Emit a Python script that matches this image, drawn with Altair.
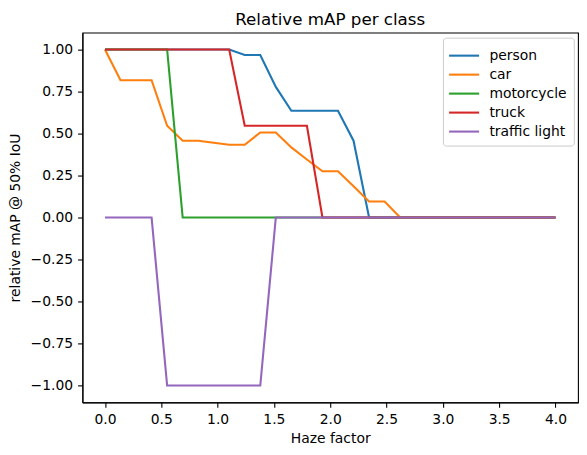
import altair as alt
import pandas as pd

haze = [0.0, 0.138, 0.276, 0.414, 0.552, 0.690, 0.828, 0.966, 1.103, 1.241,
        1.379, 1.517, 1.655, 1.793, 1.931, 2.069, 2.207, 2.345, 2.483, 2.621,
        2.759, 2.897, 3.034, 3.172, 3.310, 3.448, 3.586, 3.724, 3.862, 4.0]

person = [1.0, 1.0, 1.0, 1.0, 1.0, 1.0, 1.0, 1.0, 1.0, 0.967,
          0.967, 0.777, 0.635, 0.635, 0.635, 0.635, 0.457, 0, 0, 0,
          0, 0, 0, 0, 0, 0, 0, 0, 0, 0]
car = [1.0, 0.817, 0.817, 0.817, 0.546, 0.457, 0.457, 0.445, 0.433, 0.433,
       0.506, 0.506, 0.417, 0.345, 0.275, 0.275, 0.186, 0.095, 0.095, 0,
       0, 0, 0, 0, 0, 0, 0, 0, 0, 0]
motorcycle = [1.0, 1.0, 1.0, 1.0, 1.0, 0, 0, 0, 0, 0,
              0, 0, 0, 0, 0, 0, 0, 0, 0, 0,
              0, 0, 0, 0, 0, 0, 0, 0, 0, 0]
truck = [1.0, 1.0, 1.0, 1.0, 1.0, 1.0, 1.0, 1.0, 1.0, 0.546,
         0.546, 0.546, 0.546, 0.546, 0, 0, 0, 0, 0, 0,
         0, 0, 0, 0, 0, 0, 0, 0, 0, 0]
traffic_light = [0, 0, 0, 0, -1, -1, -1, -1, -1, -1,
                 -1, 0, 0, 0, 0, 0, 0, 0, 0, 0,
                 0, 0, 0, 0, 0, 0, 0, 0, 0, 0]

classes = ["person", "car", "motorcycle", "truck", "traffic light"]
series = [person, car, motorcycle, truck, traffic_light]
colors = ["#1f77b4", "#ff7f0e", "#2ca02c", "#d62728", "#9467bd"]
x_ticks = [0.0, 0.5, 1.0, 1.5, 2.0, 2.5, 3.0, 3.5, 4.0]
y_ticks = [-1.0, -0.75, -0.5, -0.25, 0.0, 0.25, 0.5, 0.75, 1.0]

rows = []
for name, vals in zip(classes, series):
    for h, v in zip(haze, vals):
        rows.append({"haze": h, "map": v, "cls": name})
df = pd.DataFrame(rows)

FONT = "DejaVu Sans"

color_scale = alt.Scale(domain=classes, range=colors)
x_enc = alt.X("haze:Q", title="Haze factor",
              scale=alt.Scale(domain=[-0.2, 4.2], nice=False, zero=False),
              axis=alt.Axis(values=x_ticks, format=".1f"))
y_enc = alt.Y("map:Q", title="relative mAP @ 50% IoU",
              scale=alt.Scale(domain=[-1.1, 1.1], nice=False, zero=False),
              axis=alt.Axis(values=y_ticks, format=".2f", titlePadding=7.5))

layers = []
for name in classes:
    layers.append(
        alt.Chart(df).transform_filter(alt.datum.cls == name)
        .mark_line(strokeWidth=2.1, clip=True)
        .encode(
            x=x_enc,
            y=y_enc,
            color=alt.Color("cls:N", scale=color_scale, sort=classes,
                            legend=alt.Legend(
                                title=None, orient="none",
                                legendX=360.8, legendY=5,
                                symbolType="M-1.18,0H1.82", symbolSize=400,
                                symbolStrokeWidth=2.1,
                                labelFont=FONT, labelFontSize=13.9,
                                labelColor="black", labelOffset=17,
                                rowPadding=0, padding=6.5,
                                fillColor="rgba(255,255,255,0.8)",
                                strokeColor="#cccccc", cornerRadius=3)),
        )
    )

chart = alt.layer(*layers).properties(
    width=496, height=370,
    title=alt.Title("Relative mAP per class", font=FONT, fontSize=16.7,
                    fontWeight="normal", color="black", offset=4),
    autosize=alt.AutoSizeParams(type="none"),
    padding={"left": 74.5, "top": 24.5, "right": 1, "bottom": 44},
).configure_view(
    stroke="black", strokeWidth=1.1
).configure_axis(
    grid=False, domainColor="black", domainWidth=1.1,
    tickColor="black", tickWidth=1.1, tickSize=4.9, labelPadding=4.9,
    labelFont=FONT, labelFontSize=13.9, labelColor="black",
    titleFont=FONT, titleFontSize=13.9, titleFontWeight="normal",
    titleColor="black", titlePadding=5,
)

chart.save("out.html", embed_options={"renderer": "svg", "actions": False})
